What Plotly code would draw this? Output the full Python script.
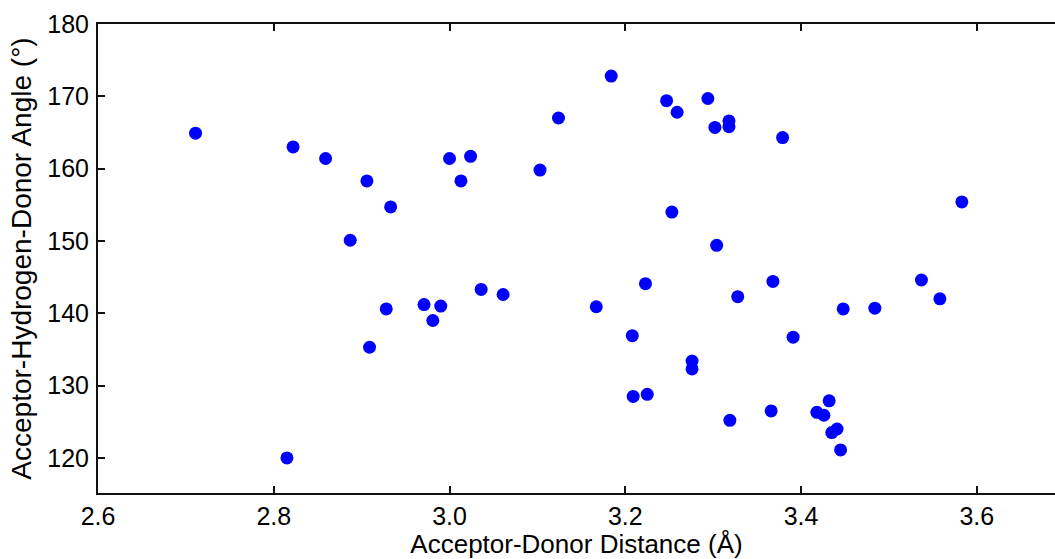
import plotly.graph_objects as go

distance = [2.711, 2.822, 2.859, 2.906, 2.933, 2.887, 2.928, 2.909, 2.815, 2.971,
            2.990, 2.981, 3.000, 3.013, 3.024, 3.036, 3.061, 3.103, 3.124, 3.167,
            3.184, 3.208, 3.209, 3.225, 3.223, 3.247, 3.259, 3.253, 3.276, 3.276,
            3.294, 3.302, 3.304, 3.318, 3.318, 3.319, 3.328, 3.368, 3.366, 3.379,
            3.391, 3.418, 3.426, 3.432, 3.435, 3.441, 3.445, 3.448, 3.484, 3.537,
            3.558, 3.583]
angle = [164.9, 163.0, 161.4, 158.3, 154.7, 150.1, 140.6, 135.3, 120.0, 141.2,
         141.0, 139.0, 161.4, 158.3, 161.7, 143.3, 142.6, 159.8, 167.0, 140.9,
         172.8, 136.9, 128.5, 128.8, 144.1, 169.4, 167.8, 154.0, 133.4, 132.3,
         169.7, 165.7, 149.4, 166.6, 165.8, 125.2, 142.3, 144.4, 126.5, 164.3,
         136.7, 126.3, 125.9, 127.9, 123.5, 124.0, 121.1, 140.6, 140.7, 144.6,
         142.0, 155.4]

x_ticks = [2.6, 2.8, 3.0, 3.2, 3.4, 3.6]
x_tick_labels = ["2.6", "2.8", "3.0", "3.2", "3.4", "3.6"]
y_ticks = [120, 130, 140, 150, 160, 170, 180]
y_tick_labels = ["120", "130", "140", "150", "160", "170", "180"]

font_family = "Liberation Sans, Arial, Helvetica, sans-serif"

fig = go.Figure(
    go.Scatter(
        x=distance, y=angle, mode="markers",
        marker=dict(color="#0000FF", size=13, line=dict(width=0)),
        showlegend=False,
    )
)

fig.update_layout(
    width=1055, height=559,
    margin=dict(l=98, r=0, t=24, b=66),
    paper_bgcolor="white", plot_bgcolor="white",
    font=dict(family=font_family, color="black", size=25),
)

fig.update_xaxes(
    range=[2.6, 3.689], tickvals=x_ticks, ticktext=x_tick_labels,
    showgrid=False, zeroline=False,
    showline=True, linecolor="#111111", linewidth=2, mirror="ticks",
    ticks="inside", ticklen=7, tickwidth=2, tickcolor="#111111",
    tickfont=dict(size=25), ticklabelstandoff=0,
    title=dict(text="Acceptor-Donor Distance (Å)", font=dict(size=26), standoff=0),
)
fig.update_yaxes(
    range=[115.15, 180], tickvals=y_ticks, ticktext=y_tick_labels,
    showgrid=False, zeroline=False,
    showline=True, linecolor="#111111", linewidth=2, mirror=False,
    ticks="inside", ticklen=7, tickwidth=2, tickcolor="#111111",
    tickfont=dict(size=25), ticklabelstandoff=2,
    title=dict(text="Acceptor-Hydrogen-Donor Angle (°)", font=dict(size=28), standoff=7),
)

fig.write_html("out.html")
